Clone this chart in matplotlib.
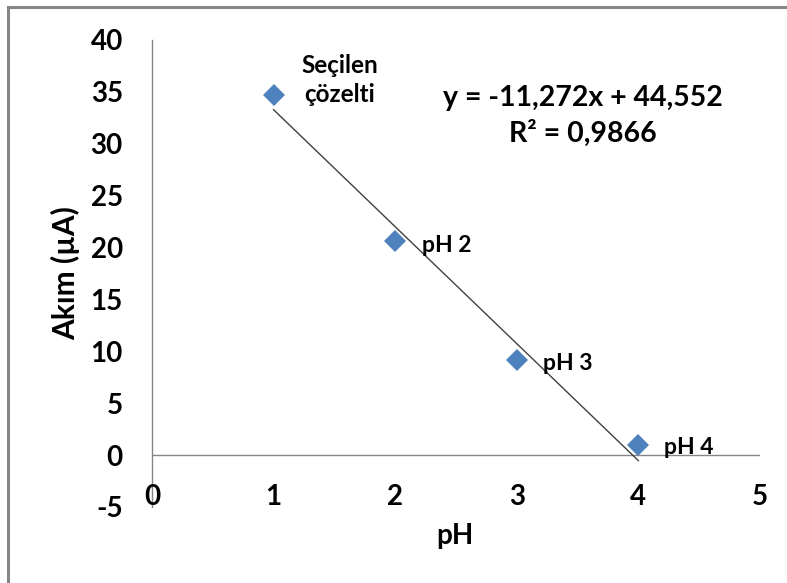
import numpy as np
import matplotlib
matplotlib.use("Agg")
import matplotlib.pyplot as plt
from matplotlib.patches import Rectangle

plt.rcParams["font.family"] = ["Lato", "DejaVu Sans"]
plt.rcParams["font.weight"] = "bold"

# measured current at each pH
ph_values = [1, 2, 3, 4]
current_ua = [34.7, 20.6, 9.2, 1.0]
point_labels = ["Seçilen\nçözelti", "pH 2", "pH 3", "pH 4"]

# linear trendline from the fit
slope = -11.272
intercept = 44.552
r_squared = 0.9866

x_ticks = [0, 1, 2, 3, 4, 5]
y_ticks = [-5, 0, 5, 10, 15, 20, 25, 30, 35, 40]

BLUE = "#4F81BD"
AXIS_GREY = "#868686"

fig = plt.figure(figsize=(7.87, 5.83), dpi=100)
ax = fig.add_axes([0.1931, 0.1304, 0.7726, 0.8010])

# chart area border (only top/left edges fall inside the image)
fig.patches.append(Rectangle((8 / 787, -0.1), 1.2, 1.1 - 7 / 583,
                             transform=fig.transFigure, fill=False,
                             edgecolor=AXIS_GREY, linewidth=2.2, clip_on=False))

ax.set_xlim(0, 5)
ax.set_ylim(-5, 40)

for side in ["top", "right", "bottom"]:
    ax.spines[side].set_visible(False)
ax.spines["left"].set_color(AXIS_GREY)
ax.spines["left"].set_linewidth(1.0)
ax.axhline(0, color=AXIS_GREY, linewidth=1.0, zorder=1)

ax.set_yticks(y_ticks)
ax.set_yticklabels([str(v) for v in y_ticks])
ax.tick_params(axis="y", length=0, pad=21, labelsize=20)
ax.set_xticks([])
for xv in x_ticks:
    ax.text(xv, -4.05, str(xv), ha="center", va="center", fontsize=20,
            fontweight="bold")

# trendline
xs = np.array([ph_values[0], ph_values[-1]])
ax.plot(xs, slope * xs + intercept, color="#404040", linewidth=1.0, zorder=2)

ax.plot(ph_values, current_ua, linestyle="none", marker="D", markersize=11,
        color=BLUE, markeredgewidth=0, zorder=3)

offsets = [(47.5, 10.8), (19.4, -2.9), (18.7, -2.9), (18.7, -2.2)]
for x, y, lab, off in zip(ph_values, current_ua, point_labels, offsets):
    ha = "center" if "\n" in lab else "left"
    ax.annotate(lab, (x, y), xytext=off, textcoords="offset points",
                ha=ha, va="center", fontsize=16.5 if ha == "left" else 17.5,
                fontweight="bold", linespacing=1.3)

eq = f"y = {slope:.3f}x + {intercept:.3f}".replace(".", ",")
r2 = f"R² = {r_squared:.4f}".replace(".", ",")
ax.text(3.544, 32.67, eq + "\n" + r2, ha="center", va="center",
        fontsize=20.5, fontweight="bold", linespacing=1.38)

ax.set_xlabel("pH", fontsize=20, fontweight="bold")
ax.set_ylabel("Akım (µA)", fontsize=21.5, fontweight="bold",
              ha="center", va="center", rotation_mode="anchor")
ax.xaxis.set_label_coords(0.498, -0.035)
ax.yaxis.set_label_coords(-0.1414, 0.501)

fig.savefig("out.png", dpi=100)
